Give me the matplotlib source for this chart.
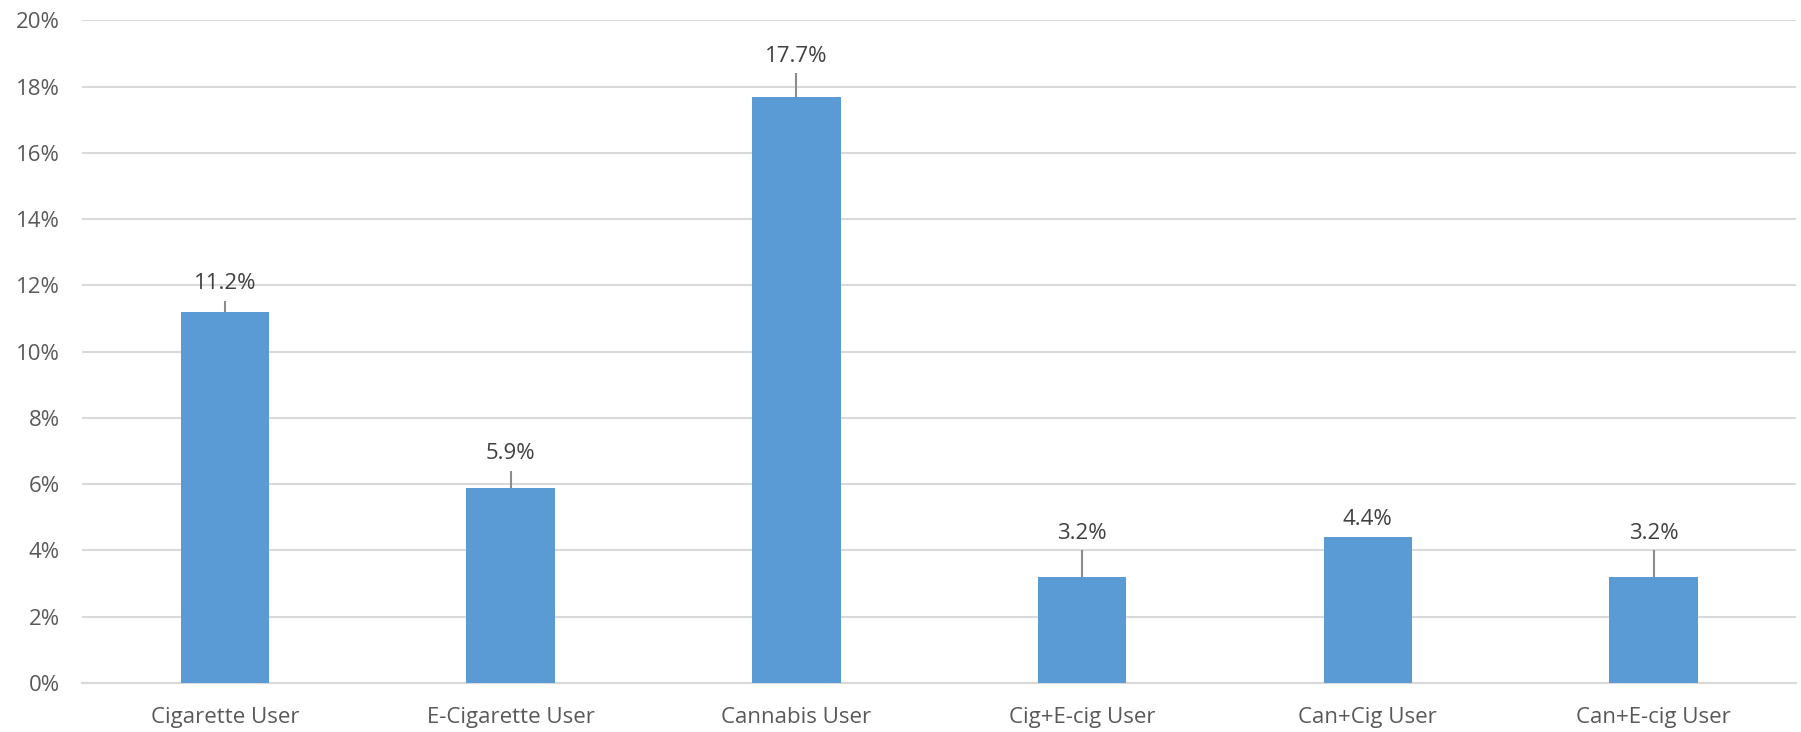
import numpy as np
import matplotlib.pyplot as plt
from matplotlib.ticker import PercentFormatter

# Prevalence by user group, with upper error margins
categories = ["Cigarette User", "E-Cigarette User", "Cannabis User",
              "Cig+E-cig User", "Can+Cig User", "Can+E-cig User"]
values = [11.2, 5.9, 17.7, 3.2, 4.4, 3.2]
err_upper = [0.33, 0.5, 0.7, 0.8, 0.0, 0.8]

plt.rcParams['font.family'] = ['Open Sans', 'DejaVu Sans']
text_color = '#595959'

fig = plt.figure(figsize=(18.01, 7.32), dpi=100)
ax = fig.add_axes([0.0455, 0.067, 0.952, 0.905])

x = np.arange(len(categories))
ax.bar(x, values, width=0.31, color='#5B9BD5', zorder=3)
ax.errorbar(x, values, yerr=[np.zeros(len(values)), err_upper], fmt='none',
            ecolor='#8C8C8C', elinewidth=1.5, capsize=0, zorder=2)

for xi, v, e in zip(x, values, err_upper):
    ax.annotate(f"{v:.1f}%", (xi, v + e), xytext=(0, 5), textcoords='offset points',
                ha='center', va='bottom', fontsize=16, color='#404040')

ax.set_xlim(-0.5, len(categories) - 0.5)
ax.set_ylim(0, 20)
ax.set_yticks(np.arange(0, 21, 2))
ax.yaxis.set_major_formatter(PercentFormatter(decimals=0))
ax.set_xticks(x)
ax.set_xticklabels(categories)
ax.tick_params(axis='both', length=0, labelsize=16, colors=text_color)
ax.tick_params(axis='x', pad=17)
ax.tick_params(axis='y', pad=16)
ax.grid(axis='y', color='#D9D9D9', linewidth=1.5, zorder=0)
for side in ['top', 'right', 'left']:
    ax.spines[side].set_visible(False)
ax.spines['bottom'].set_color('#D9D9D9')
ax.spines['bottom'].set_linewidth(1.5)

fig.savefig('out.png', dpi=100)
